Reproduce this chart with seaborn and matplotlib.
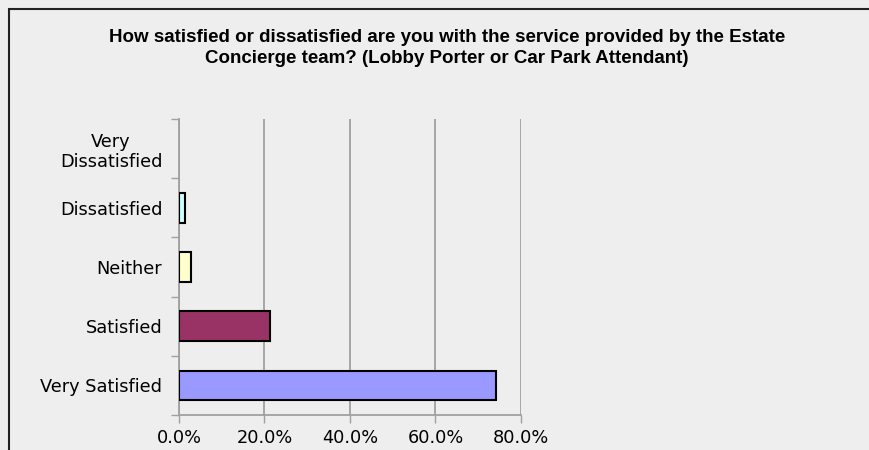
import pandas as pd
import matplotlib.pyplot as plt
import seaborn as sns
from matplotlib.ticker import PercentFormatter, FixedLocator
from matplotlib.patches import Rectangle

categories = ['Very\nDissatisfied', 'Dissatisfied', 'Neither', 'Satisfied', 'Very Satisfied']
percent = [0.0, 1.4, 2.8, 21.2, 74.2]
colors = ['#FFFFFF', '#CCFFFF', '#FFFFCC', '#993366', '#9999FF']

df = pd.DataFrame({'answer': categories, 'percent': percent})

bg = '#eeeeee'
fig = plt.figure(figsize=(8.7, 4.5), dpi=100, facecolor=bg)
ax = fig.add_axes([179 / 870, 1 - 415 / 450, 342 / 870, 296 / 450])
ax.set_facecolor(bg)

sns.barplot(data=df, x='percent', y='answer', hue='answer', palette=colors,
            saturation=1, legend=False, orient='h', width=0.5, edgecolor='black',
            linewidth=1.5, ax=ax, zorder=3)

# empty bars leave no outline
for bar in ax.patches:
    if bar.get_width() == 0:
        bar.set_linewidth(0)

ax.set_xlim(0, 80)
ax.set_ylim(4.5, -0.5)
ax.set_xticks([0, 20, 40, 60, 80])
ax.xaxis.set_major_formatter(PercentFormatter(xmax=100, decimals=1))
ax.grid(axis='x', color='#a0a0a0', linewidth=1.3, zorder=0)
ax.set_axisbelow(True)

# ticks between the categories, labels centred on them
ax.yaxis.set_minor_locator(FixedLocator([i - 0.5 for i in range(6)]))
ax.tick_params(axis='y', which='major', length=0, pad=12, labelsize=12.8)
ax.tick_params(axis='y', which='minor', length=6, color='#a0a0a0', width=1)
ax.tick_params(axis='x', which='major', length=6, color='#a0a0a0', width=1,
               labelsize=12.8, pad=4)
for lbl in ax.get_yticklabels():
    lbl.set_multialignment('center')

for s in ['top', 'right']:
    ax.spines[s].set_visible(False)
for s in ['left', 'bottom']:
    ax.spines[s].set_color('#a0a0a0')
    ax.spines[s].set_linewidth(1.3)

ax.set_xlabel('')
ax.set_ylabel('')

fig.text(447 / 870, 1 - 48 / 450,
         'How satisfied or dissatisfied are you with the service provided by the Estate\n'
         'Concierge team? (Lobby Porter or Car Park Attendant)',
         ha='center', va='center', fontsize=13.5, fontweight='bold',
         family='Liberation Sans', linespacing=1.3)

# outer chart border
fig.patches.append(Rectangle((9 / 870, -0.1), 1.0, 1.1 - 9 / 450, transform=fig.transFigure,
                             fill=False, edgecolor='#222222', linewidth=1.5))

fig.savefig('out.png', dpi=100, facecolor=bg)
